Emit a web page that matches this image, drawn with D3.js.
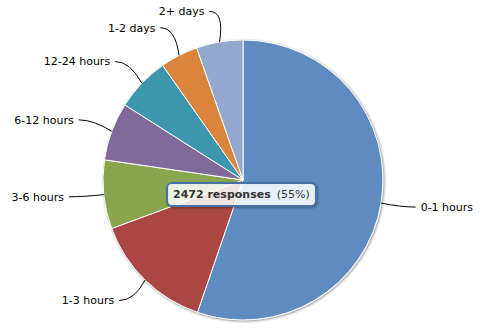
<!DOCTYPE html>
<html>
<head>
<meta charset="utf-8">
<script src="https://cdn.jsdelivr.net/npm/d3@7"></script>
<style>
  body { margin: 0; background: #fff; }
  svg { display: block; font-family: "DejaVu Sans", sans-serif; }
</style>
</head>
<body>
<div id="chart"></div>
<script>
// response time buckets, clockwise from the top
const categories = ['0-1 hours', '1-3 hours', '3-6 hours', '6-12 hours', '12-24 hours', '1-2 days', '2+ days'];
const responses = [2472, 630, 355, 300, 280, 195, 240];
const colors = ['#5E8CC0', '#AA4643', '#89A54E', '#80699B', '#3D96AE', '#DB843D', '#92A8CD'];
const hovered = 0; // slice with the tooltip

const width = 486, height = 335;
const cx = 243, cy = 180, radius = 140, labelDist = 30;

const data = categories.map((c, i) => ({ name: c, value: responses[i], color: colors[i] }));
const total = d3.sum(responses);

const svg = d3.select('#chart').append('svg')
    .attr('width', width)
    .attr('height', height);

const pie = d3.pie().value(d => d.value).sort(null);
const arcs = pie(data);
const arc = d3.arc().innerRadius(0).outerRadius(radius);

const g = svg.append('g').attr('transform', 'translate(' + cx + ',' + cy + ')');

// soft shadow round the pie
[[5, 0.05], [3, 0.1], [1, 0.15]].forEach(([w, o]) => {
    g.append('circle')
        .attr('cx', 1).attr('cy', 1)
        .attr('r', radius)
        .attr('fill', 'none')
        .attr('stroke', 'rgba(0,0,0,' + o + ')')
        .attr('stroke-width', w);
});

g.selectAll('path.slice')
    .data(arcs)
    .enter().append('path')
    .attr('class', 'slice')
    .attr('d', arc)
    .attr('fill', d => d.data.color)
    .attr('stroke', '#fff')
    .attr('stroke-width', 1)
    .attr('stroke-linejoin', 'round');

// labels with connectors
arcs.forEach(d => {
    const a = (d.startAngle + d.endAngle) / 2;
    const sx = Math.sin(a), sy = -Math.cos(a);
    const edge = [sx * radius, sy * radius];
    const lp = [sx * (radius + labelDist), sy * (radius + labelDist) - 1];
    const dir = sx < 0 ? -1 : 1;
    const start = [lp[0] + dir * 5, lp[1]];
    const ctrl = [lp[0] - dir * 10, lp[1]];

    g.append('path')
        .attr('d', 'M' + start + 'Q' + ctrl + ' ' + edge)
        .attr('fill', 'none')
        .attr('stroke', '#000')
        .attr('stroke-width', 1);

    g.append('text')
        .attr('x', lp[0] + dir * 10)
        .attr('y', lp[1])
        .attr('dy', '0.35em')
        .attr('text-anchor', dir < 0 ? 'end' : 'start')
        .attr('font-size', 11)
        .attr('fill', '#000')
        .text(d.data.name);
});

// tooltip for the hovered slice
const tip = svg.append('g').attr('transform', 'translate(' + (cx - 76) + ',' + (cy + 3) + ')');
const tipW = 149, tipH = 23;
[[5, 0.05], [3, 0.1], [1, 0.15]].forEach(([w, o]) => {
    tip.append('rect')
        .attr('x', 1).attr('y', 1)
        .attr('width', tipW).attr('height', tipH)
        .attr('rx', 5)
        .attr('fill', 'none')
        .attr('stroke', 'rgba(0,0,0,' + o + ')')
        .attr('stroke-width', w);
});
tip.append('rect')
    .attr('width', tipW).attr('height', tipH)
    .attr('rx', 5)
    .attr('fill', 'rgba(255,255,255,0.85)')
    .attr('stroke', '#4572A7')
    .attr('stroke-width', 2);

const tipText = tip.append('text')
    .attr('x', 6)
    .attr('y', tipH / 2)
    .attr('dy', '0.35em')
    .attr('font-size', 11)
    .attr('fill', '#333');
tipText.append('tspan')
    .attr('font-weight', 'bold')
    .text(responses[hovered] + ' responses');
tipText.append('tspan')
    .attr('dx', 6)
    .text('(' + d3.format('.0%')(responses[hovered] / total) + ')');
</script>
</body>
</html>
